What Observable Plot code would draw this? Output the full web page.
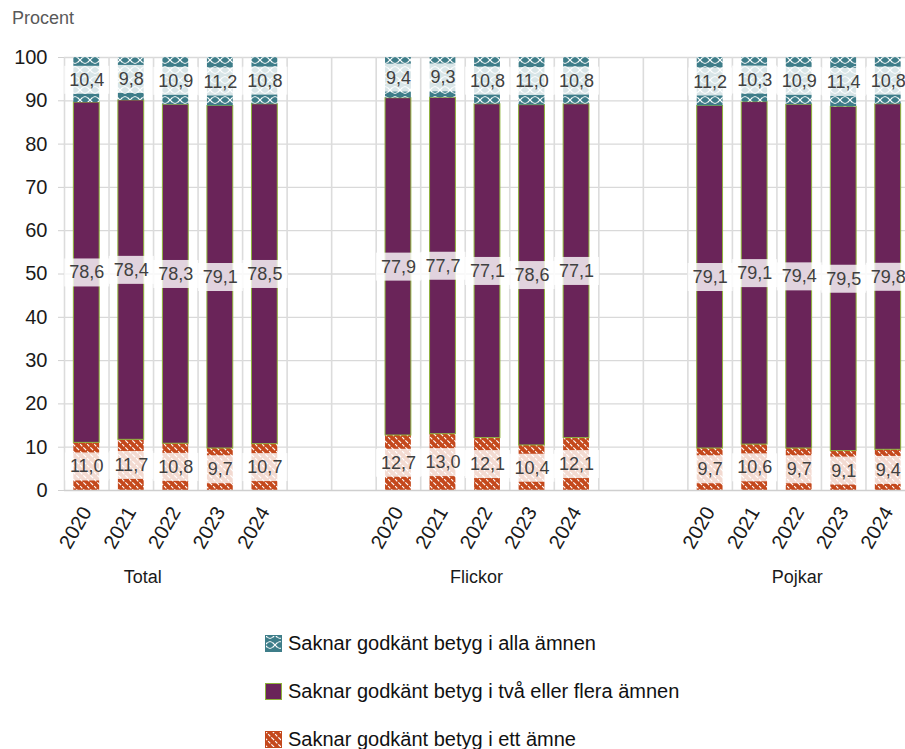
<!DOCTYPE html>
<html><head><meta charset="utf-8">
<script src="https://cdn.jsdelivr.net/npm/d3@7"></script>
<script src="https://cdn.jsdelivr.net/npm/@observablehq/plot@0.6"></script>
<style>
body{margin:0;background:#fff;font-family:"Liberation Sans",Arial,sans-serif;}
#wrap{position:relative;width:905px;}
#ylab{position:absolute;left:12px;top:8px;font-size:18px;color:#595959;}
#legend{margin-top:19px;}
.item{display:flex;align-items:center;height:48px;margin-left:265px;font-size:20px;color:#111;}
.item svg{margin-right:6px;}
</style></head><body>
<svg width="0" height="0" style="position:absolute">
<defs>
<pattern id="pTeal" width="10" height="10" patternUnits="userSpaceOnUse">
 <rect width="10" height="10" fill="#3e7d89"/>
 <path d="M0,0L2.5,2.5M10,0L7.5,2.5M0,10L2.5,7.5M10,10L7.5,7.5" stroke="#fff" stroke-width="1.1"/>
 <path d="M2.5,2.5Q5,4.5 7.5,2.5M2.5,7.5Q5,5.5 7.5,7.5" fill="none" stroke="#fff" stroke-width="0.9"/>
</pattern>
<pattern id="pOrange" width="7" height="7" patternUnits="userSpaceOnUse">
 <rect width="7" height="7" fill="#c4481c"/>
 <path d="M0,0L7,7M-1,6L1,8M6,-1L8,1" stroke="#fff" stroke-width="1.2" stroke-dasharray="3 1.5"/>
</pattern>
</defs>
</svg>
<div id="wrap"><div id="ylab">Procent</div><div id="chart"></div></div>
<div id="legend"></div>
<script>
const groups = ["Total", "Flickor", "Pojkar"];
const years = ["2020", "2021", "2022", "2023", "2024"];
const seriesNames = ["Saknar godkänt betyg i alla ämnen", "Saknar godkänt betyg i två eller flera ämnen", "Saknar godkänt betyg i ett ämne"];
const yTicks = [0, 10, 20, 30, 40, 50, 60, 70, 80, 90, 100];

const totalAlla = [10.4, 9.8, 10.9, 11.2, 10.8];
const totalTva  = [78.6, 78.4, 78.3, 79.1, 78.5];
const totalEtt  = [11.0, 11.7, 10.8, 9.7, 10.7];
const flickorAlla = [9.4, 9.3, 10.8, 11.0, 10.8];
const flickorTva  = [77.9, 77.7, 77.1, 78.6, 77.1];
const flickorEtt  = [12.7, 13.0, 12.1, 10.4, 12.1];
const pojkarAlla = [11.2, 10.3, 10.9, 11.4, 10.8];
const pojkarTva  = [79.1, 79.1, 79.4, 79.5, 79.8];
const pojkarEtt  = [9.7, 10.6, 9.7, 9.1, 9.4];

const byGroup = {
  Total: [totalEtt, totalTva, totalAlla],
  Flickor: [flickorEtt, flickorTva, flickorAlla],
  Pojkar: [pojkarEtt, pojkarTva, pojkarAlla]
};
const stackOrder = ["ett", "tva", "alla"];

const slots = [];
groups.forEach((g, i) => {
  if (i > 0) slots.push("gap" + i + "a", "gap" + i + "b");
  years.forEach(y => slots.push(g + " " + y));
});

const rows = [];
groups.forEach(g => {
  years.forEach((y, j) => {
    let base = 0;
    byGroup[g].forEach((arr, k) => {
      const v = arr[j];
      rows.push({slot: g + " " + y, group: g, year: y, s: stackOrder[k], value: v, y1: base, y2: base + v});
      base += v;
    });
  });
});

const fmt = v => v.toFixed(1).replace(".", ",");
const step = (910 - 64) / slots.length;

const groupLabel = (name, dx) =>
  Plot.text([name], {x: d => d + " 2022", frameAnchor: "bottom", dy: 92, dx, text: d => d, fontSize: 18, fill: "#1a1a1a"});

const plot = Plot.plot({
  width: 905,
  height: 600,
  marginTop: 57,
  marginBottom: 110,
  marginLeft: 64,
  marginRight: 0,
  style: {fontFamily: "'Liberation Sans', Arial, sans-serif", background: "#fff", overflow: "visible"},
  x: {domain: slots, range: [64, 910], paddingInner: 0.42, paddingOuter: 0.21, round: false},
  y: {domain: [0, 100]},
  marks: [
    Plot.ruleY(yTicks.filter(t => t > 0), {stroke: "#d9d9d9", strokeWidth: 1.3}),
    Plot.ruleX(slots, {x: d => d, y1: 0, y2: 100, dx: -step / 2, stroke: "#dcdcdc", strokeWidth: 1.6}),
    Plot.barY(rows.filter(d => d.s === "ett"), {x: "slot", y1: "y1", y2: "y2", fill: "url(#pOrange)"}),
    Plot.barY(rows.filter(d => d.s === "tva"), {x: "slot", y1: "y1", y2: "y2", fill: "#6a2459", stroke: "#8db33a", strokeWidth: 1}),
    Plot.barY(rows.filter(d => d.s === "alla"), {x: "slot", y1: "y1", y2: "y2", fill: "url(#pTeal)"}),
    Plot.ruleY([0], {stroke: "#cfcfcf", strokeWidth: 1.6}),
    Plot.text(rows, {x: "slot", y: d => (d.y1 + d.y2) / 2, text: d => fmt(d.value), fontSize: 18, fill: "#404040"}),
    Plot.axisY({ticks: yTicks, tickSize: 6, tickPadding: 11, stroke: "#d0d0d0", fill: "#1a1a1a", fontSize: 20, label: null}),
    Plot.axisX({tickSize: 0, tickRotate: -60, tickPadding: 18, tickFormat: d => d.startsWith("gap") ? "" : d.split(" ")[1], fill: "#1a1a1a", fontSize: 20, label: null}),
    groupLabel("Total", -33),
    groupLabel("Flickor", -11),
    groupLabel("Pojkar", -2)
  ]
});
document.getElementById("chart").appendChild(plot);

// translucent label boxes behind the value labels (first text mark group)
const textGroups = plot.querySelectorAll('g[aria-label="text"]');
const g = textGroups[0];
if (g) {
  g.querySelectorAll("text").forEach(t => {
    const bb = t.getBBox();
    const r = document.createElementNS("http://www.w3.org/2000/svg", "rect");
    const cy = bb.y + bb.height / 2;
    r.setAttribute("x", bb.x - 5);
    r.setAttribute("y", cy - 14);
    r.setAttribute("width", bb.width + 10);
    r.setAttribute("height", 28);
    r.setAttribute("fill", "#fff");
    r.setAttribute("fill-opacity", 0.8);
    r.setAttribute("stroke", "none");
    if (t.getAttribute("transform")) r.setAttribute("transform", t.getAttribute("transform"));
    t.parentNode.insertBefore(r, t);
  });
}

// legend
const legendFills = [
  {fill: "url(#pTeal)", stroke: "#3e7d89"},
  {fill: "#6a2459", stroke: "#8db33a"},
  {fill: "url(#pOrange)", stroke: "#c4481c"}
];
const leg = document.getElementById("legend");
seriesNames.forEach((name, i) => {
  const item = document.createElement("div");
  item.className = "item";
  item.innerHTML = `<svg width="17" height="17"><rect x="0.5" y="0.5" width="16" height="16" fill="${legendFills[i].fill}" stroke="${legendFills[i].stroke}" stroke-width="1"/></svg><span>${name}</span>`;
  leg.appendChild(item);
});
</script>
</body></html>
